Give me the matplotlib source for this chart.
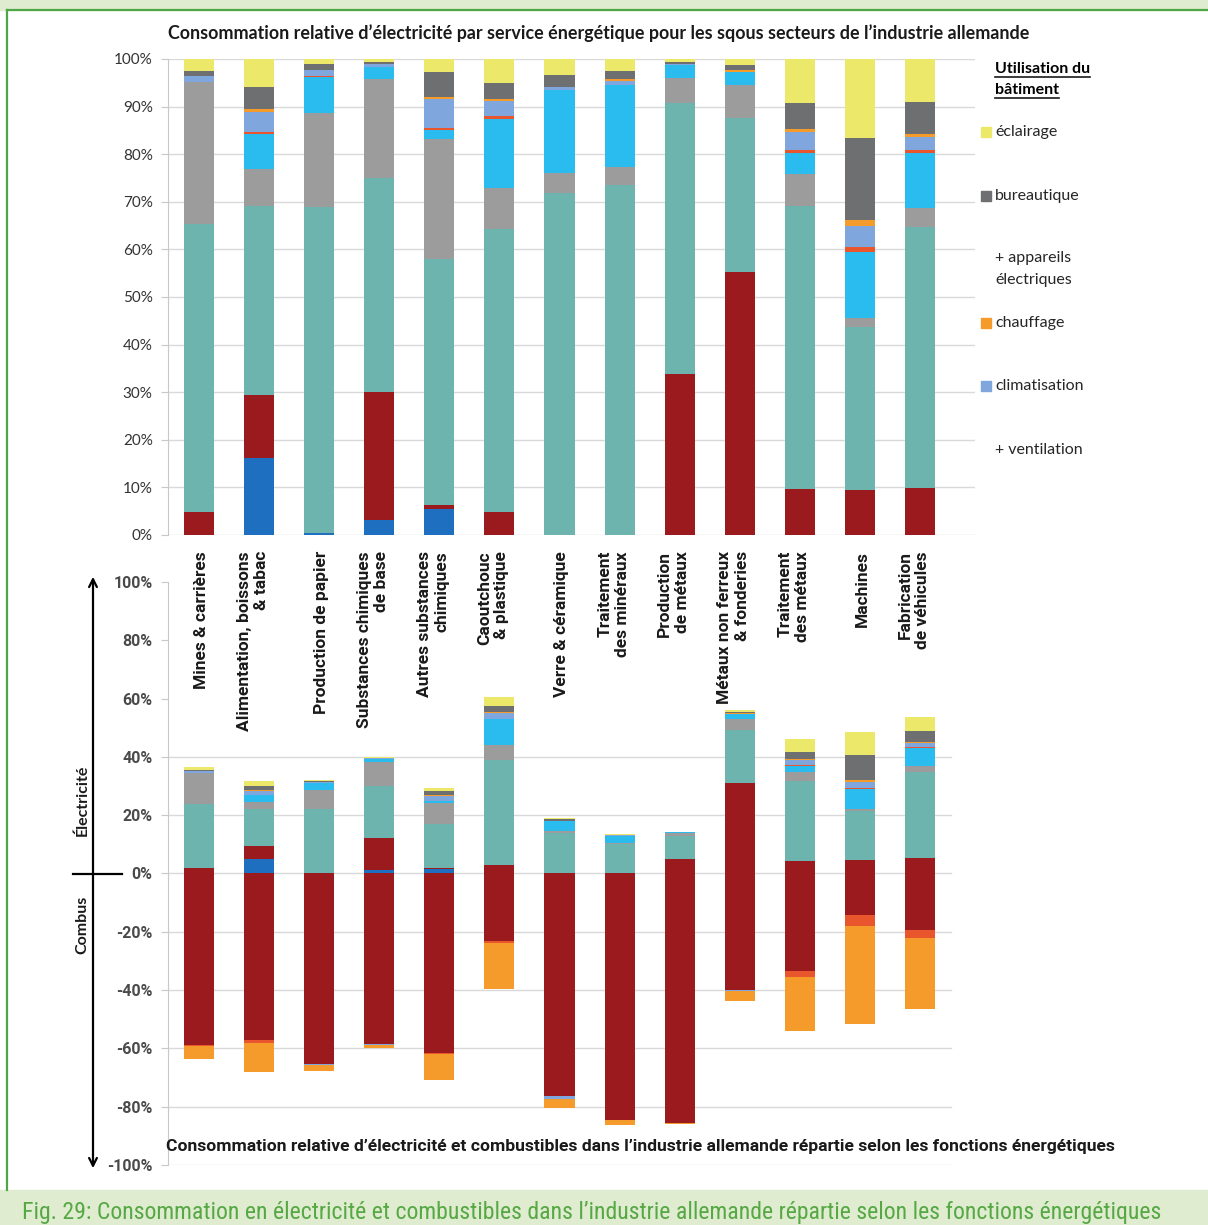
import matplotlib
matplotlib.use('Agg')
import matplotlib.pyplot as plt
import numpy as np
from matplotlib import font_manager
from matplotlib.patches import Rectangle, FancyArrowPatch
from matplotlib.lines import Line2D

W, H = 1208, 1225

# secteurs (x)
secteurs = ['Mines & carrières', 'Alimentation, boissons\n& tabac', 'Production de papier',
            'Substances chimiques\nde base', 'Autres substances\nchimiques', 'Caoutchouc\n& plastique',
            'Verre & céramique', 'Traitement\ndes minéraux', 'Production\nde métaux',
            'Métaux non ferreux\n& fonderies', 'Traitement\ndes métaux', 'Machines',
            'Fabrication\nde véhicules']

# parts de l'electricite par service (%), graphique du haut
froid_process = [0, 16.1, 0.4, 3.2, 5.4, 0, 0, 0, 0, 0, 0, 0, 0]
chaleur_process = [4.9, 13.3, 0, 26.9, 1.0, 4.9, 0, 0, 33.8, 55.3, 9.6, 9.5, 9.9]
force_motrice = [60.4, 39.7, 68.6, 45.0, 51.5, 59.3, 71.8, 73.5, 56.9, 32.4, 59.5, 34.3, 54.9]
air_comprime = [29.8, 7.8, 19.6, 20.8, 25.3, 8.8, 4.3, 3.9, 5.4, 6.8, 6.7, 1.7, 3.8]
froid = [0, 7.3, 7.7, 2.5, 1.9, 14.5, 17.4, 17.1, 2.6, 2.8, 4.4, 14.0, 11.7]
eau_chaude = [0, 0.5, 0.2, 0, 0.3, 0.5, 0, 0, 0, 0, 0.7, 0.9, 0.6]
climatisation = [1.4, 4.2, 1.2, 0.6, 6.1, 3.2, 0.7, 0.9, 0.3, 0, 3.8, 4.5, 2.8]
chauffage = [0, 0.6, 0, 0, 0.5, 0.4, 0, 0.3, 0, 0.4, 0.6, 1.3, 0.5]
bureautique = [1.0, 4.7, 1.3, 0.4, 5.3, 3.3, 2.4, 1.8, 0.3, 1.0, 5.4, 17.3, 6.8]
eclairage = [2.5, 5.8, 1.0, 0.6, 2.7, 5.1, 3.4, 2.5, 0.7, 1.3, 9.3, 16.5, 9.0]

# graphique du bas : part totale de l'electricite et combustibles (%)
elec_total = [36.4, 31.9, 32.2, 40.0, 29.2, 60.4, 19.2, 13.7, 14.3, 56.2, 46.1, 48.6, 53.6]
comb_chaleur_process = [58.8, 57.0, 65.4, 58.4, 61.5, 23.1, 76.4, 84.6, 85.5, 40.0, 33.3, 14.2, 19.4]
comb_eau_chaude = [0.5, 1.0, 0, 0, 0.5, 0.9, 0, 0, 0, 0, 2.3, 3.8, 2.6]
comb_climatisation = [0, 0, 0.4, 0.4, 0, 0, 0.8, 0, 0, 0.3, 0, 0, 0]
comb_chauffage = [4.5, 10.2, 2.1, 0.9, 8.9, 15.6, 3.3, 1.6, 0.4, 3.4, 18.3, 33.5, 24.4]

c_bleu = '#1e6fc0'
c_rouge = '#9a1a1d'
c_teal = '#6cb4ad'
c_gris = '#9c9c9c'
c_cyan = '#2bbcef'
c_rorange = '#e9552d'
c_bleuclair = '#7fa7dd'
c_orange = '#f49b2b'
c_grisfonce = '#6e6f71'
c_jaune = '#ece96a'

series_elec = [(froid_process, c_bleu), (chaleur_process, c_rouge), (force_motrice, c_teal),
               (air_comprime, c_gris), (froid, c_cyan), (eau_chaude, c_rorange),
               (climatisation, c_bleuclair), (chauffage, c_orange), (bureautique, c_grisfonce),
               (eclairage, c_jaune)]
series_comb = [(comb_chaleur_process, c_rouge), (comb_eau_chaude, c_rorange),
               (comb_climatisation, c_bleuclair), (comb_chauffage, c_orange)]

FONT = ['Lato', 'DejaVu Sans']
plt.rcParams['font.family'] = FONT
DIN = ['Roboto', 'DejaVu Sans']


def has_font(name):
    try:
        font_manager.findfont(name, fallback_to_default=False)
        return True
    except Exception:
        return False


narrow = [f for f in ['Roboto Condensed', 'Liberation Sans Narrow', 'Open Sans Condensed']
          if has_font(f)]
CAPTION_FONT = narrow[:1] + ['DejaVu Sans']

fig = plt.figure(figsize=(W / 100, H / 100), dpi=100)


def fx(x):
    return x / W


def fy(y):
    return 1 - y / H


def px_axes(x0, y0, x1, y1):
    return fig.add_axes([fx(x0), fy(y1), (x1 - x0) / W, (y1 - y0) / H])


def fit_width(t, target):
    # ajuste la taille de police pour que le texte fasse `target` pixels de large
    fig.canvas.draw()
    w = t.get_window_extent(fig.canvas.get_renderer()).width
    t.set_fontsize(t.get_fontsize() * target / w)


x = np.arange(len(secteurs))
xlim = ((168 - 199) / 60.08, (975 - 199) / 60.08)
grid_c = '#d9d9d9'

# ---- graphique du haut
ax1 = px_axes(168, 59, 975, 535)
bottom = np.zeros(len(x))
for vals, col in series_elec:
    ax1.bar(x, vals, bottom=bottom, width=0.5, color=col, zorder=3, linewidth=0)
    bottom += np.array(vals)
ax1.set_xlim(xlim)
ax1.set_ylim(0, 100)
ax1.set_yticks(np.arange(0, 101, 10))
ax1.set_yticklabels(['%d%%' % v for v in range(0, 101, 10)], fontsize=11, color='#333333')
ax1.set_xticks([])
for s in ['top', 'right', 'bottom']:
    ax1.spines[s].set_visible(False)
ax1.spines['left'].set_color('#c8c8c8')
ax1.tick_params(axis='y', length=5, color='#c8c8c8', pad=6)
ax1.yaxis.grid(True, color=grid_c, lw=1, zorder=0)
ax1.set_facecolor('none')

# ---- graphique du bas
ax2 = px_axes(168, 582, 975, 1165)
bottom = np.zeros(len(x))
for vals, col in series_elec:
    seg = np.array(vals) * np.array(elec_total) / 100
    ax2.bar(x, seg, bottom=bottom, width=0.5, color=col, zorder=3, linewidth=0)
    bottom += seg
bottom = np.zeros(len(x))
for vals, col in series_comb:
    ax2.bar(x, -np.array(vals), bottom=bottom, width=0.5, color=col, zorder=3, linewidth=0)
    bottom -= np.array(vals)
ax2.set_xlim(xlim)
ax2.set_ylim(-100, 100)
ax2.set_yticks(np.arange(-100, 101, 20))
ax2.set_yticklabels(['%d%%' % v for v in range(-100, 101, 20)], fontsize=11.5,
                    color='#4a4a4a', fontweight='bold', family=DIN)
ax2.set_xticks([])
for s in ['top', 'right', 'bottom']:
    ax2.spines[s].set_visible(False)
ax2.spines['left'].set_color('#c8c8c8')
ax2.tick_params(axis='y', length=5, color='#c8c8c8', pad=6)
for v in range(-100, 41, 20):
    ax2.axhline(v, color=grid_c, lw=1, zorder=0, xmax=0.97)
ax2.set_facecolor('none')

# etiquettes des secteurs
for i, lab in enumerate(secteurs):
    fig.text(fx(199 + 60.08 * i + 10), fy(551), lab, rotation=90, ha='right', va='top',
             multialignment='right', fontsize=12.5, fontweight='bold', color='#1a1a1a',
             family=DIN)

# titres
t_haut = fig.text(fx(168), fy(33), "Consommation relative d\u2019électricité par service énergétique pour les sqous secteurs de l\u2019industrie allemande",
                  ha='left', va='center', fontsize=11.5, fontweight='bold', color='#1a1a1a')
t_bas = fig.text(fx(166), fy(1146), "Consommation relative d\u2019électricité et combustibles dans l\u2019industrie allemande répartie selon les fonctions énergétiques",
                 ha='left', va='center', fontsize=11.5, fontweight='bold', color='#1a1a1a',
                 family=DIN)
fit_width(t_haut, 858)
fit_width(t_bas, 948)

# legende (utilisation du batiment)
t1 = fig.text(fx(995), fy(69), 'Utilisation du', ha='left', va='center', fontsize=11.5, fontweight='bold')
t2 = fig.text(fx(995), fy(90), 'bâtiment', ha='left', va='center', fontsize=11.5, fontweight='bold')
fig.canvas.draw()
rend = fig.canvas.get_renderer()
for t in (t1, t2):
    bb = t.get_window_extent(rend)
    fig.add_artist(Line2D([bb.x0 / W, bb.x1 / W], [bb.y0 / H - 0.0012, bb.y0 / H - 0.0012],
                          color='#1a1a1a', lw=1.2))

legende = [(132, 'éclairage', c_jaune), (196, 'bureautique', c_grisfonce),
           (258, '+ appareils', None), (280, 'électriques', None),
           (323, 'chauffage', c_orange), (386, 'climatisation', c_bleuclair),
           (450, '+ ventilation', None)]
for yy, txt, col in legende:
    fig.text(fx(995), fy(yy), txt, ha='left', va='center', fontsize=11.5, color='#262626')
    if col:
        fig.add_artist(Rectangle((fx(981), fy(yy + 5)), 10 / W, 10 / H, color=col,
                                 transform=fig.transFigure))

# fleche electricite / combustibles
fig.add_artist(FancyArrowPatch((fx(93), fy(1171)), (fx(93), fy(574)), arrowstyle='<->',
                               mutation_scale=14, lw=1.6, color='black',
                               transform=fig.transFigure))
fig.add_artist(Line2D([fx(73), fx(122)], [fy(874), fy(874)], color='black', lw=1.6))
fig.text(fx(82), fy(800), 'Électricité', rotation=90, ha='center', va='center',
         fontsize=11.5, fontweight='bold', color='#1a1a1a')
fig.text(fx(82), fy(925), 'Combus', rotation=90, ha='center', va='center',
         fontsize=11.5, fontweight='bold', color='#1a1a1a')

# cadre vert
vert = '#4ea646'
vert_clair = '#dfeccf'
fig.add_artist(Rectangle((0, fy(10)), 1, 10 / H, color=vert_clair, transform=fig.transFigure))
fig.add_artist(Rectangle((0, 0), 1, 35 / H, color=vert_clair, transform=fig.transFigure))
fig.add_artist(Line2D([fx(7), 1], [fy(10), fy(10)], color=vert, lw=1.6))
fig.add_artist(Line2D([fx(7), fx(7)], [fy(10), fy(1190)], color=vert, lw=1.6))
t_fig = fig.text(fx(22), fy(1212), "Fig. 29: Consommation en électricité et combustibles dans l\u2019industrie allemande répartie selon les fonctions énergétiques",
                 ha='left', va='center', fontsize=14.5, color='#56a844',
                 family=CAPTION_FONT, fontstretch='condensed')
fit_width(t_fig, 1138)

fig.savefig('out.png', dpi=100)
